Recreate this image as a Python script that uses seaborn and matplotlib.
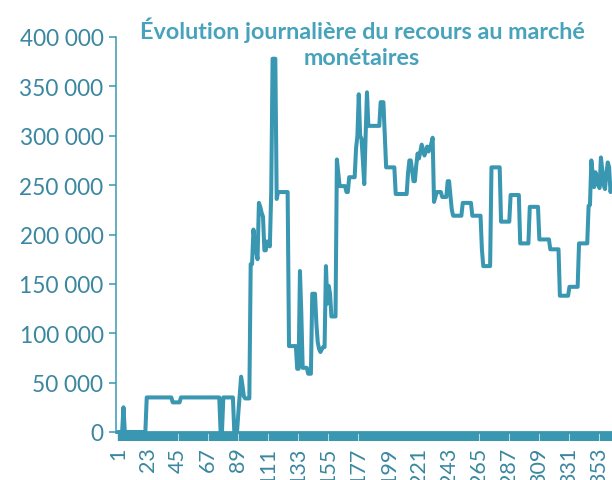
import numpy as np
import pandas as pd
import matplotlib
matplotlib.use("Agg")
import matplotlib.pyplot as plt
from matplotlib.ticker import FuncFormatter
import seaborn as sns

# Daily use of the money market, stored as runs of equal values
run_values = [
    0, 25000, 0, 35000, 30000, 35000, 0, 35000, 0,
    20000, 38000, 56000, 47000, 36000, 34000,
    170000, 205000, 192000, 183000, 175000, 232000, 228000, 222000, 218000,
    184000, 193000, 190000, 188000, 243000, 378000, 236000, 243000,
    87000, 64000, 163000, 120000, 65000, 59000, 140000, 110000, 91000,
    84000, 81000, 84000, 86000, 168000, 130000, 148000, 140000, 117000,
    276000, 262000, 249000, 243000, 258000, 287000, 300000, 342000, 300000,
    297000, 275000, 251000, 300000, 344000, 310000, 334000, 300000, 268000,
    241000, 262000, 275000, 265000, 254000, 270000, 282000, 277000, 284000,
    291000, 285000, 280000, 285000, 289000, 284000, 287000, 292000, 298000,
    233000, 238000, 243000, 238000, 254000, 240000, 225000, 219000, 232000,
    219000, 185000, 168000, 268000, 213000, 240000, 191000, 228000, 195000,
    185000, 138000, 147000, 191000, 229000, 230000, 275000, 262000, 248000,
    263000, 258000, 250000, 247000, 278000, 265000, 250000, 246000, 262000,
    273000, 268000, 243000, 250000,
]
run_lengths = [
    4, 1, 16, 19, 6, 29, 2, 8, 3,
    1, 1, 1, 1, 1, 4,
    2, 1, 1, 1, 1, 1, 1, 1, 1,
    2, 1, 1, 1, 1, 3, 1, 8,
    6, 2, 1, 1, 4, 3, 3, 1, 1,
    1, 1, 1, 2, 1, 1, 1, 1, 4,
    1, 1, 5, 2, 5, 1, 1, 1, 1,
    1, 1, 1, 1, 1, 9, 3, 1, 7,
    9, 1, 2, 1, 2, 1, 1, 1, 1,
    1, 1, 1, 1, 1, 1, 1, 1, 1,
    1, 1, 4, 4, 2, 1, 1, 7, 7,
    7, 1, 6, 7, 7, 7, 7, 7, 8,
    7, 7, 7, 7, 1, 1, 1, 1, 1,
    1, 1, 1, 1, 1, 1, 1, 1, 1,
    1, 1, 1, 1,
]
tick_days = list(range(1, 354, 22))
y_ticks = list(range(0, 400001, 50000))
title_text = "Évolution journalière du recours au marché\nmonétaires"

LINE = "#3a97b2"
TITLE = "#47a2bb"
LABEL = "#3a879f"

daily = np.repeat(run_values, run_lengths)
df = pd.DataFrame({"jour": np.arange(1, len(daily) + 1), "recours": daily})

sns.set_style("white")
plt.rcParams["font.family"] = ["Lato", "DejaVu Sans"]

fig = plt.figure(figsize=(6.12, 4.81), dpi=100)
ax = fig.add_axes([116 / 612, 48 / 481, 496 / 612, 395 / 481])

sns.lineplot(data=df, x="jour", y="recours", ax=ax, color=LINE,
             linewidth=2.9, solid_joinstyle="round", solid_capstyle="round")
for ln in ax.lines:
    ln.set_clip_on(False)

ax.set_xlim(-0.46, 362.1)
ax.set_ylim(0, 400000)

ax.set_xticks(tick_days)
ax.set_xticklabels([str(d) for d in tick_days], rotation=90)
ax.set_xticks(np.arange(1, len(daily) + 1), minor=True)
ax.set_yticks(y_ticks)
ax.yaxis.set_major_formatter(FuncFormatter(lambda v, _: f"{int(v):,}".replace(",", " ")))

# one tick per day, packed so tightly that they read as a solid band
ax.tick_params(axis="x", which="both", direction="out", length=6.5, width=1.7,
               color=LINE, pad=4, labelsize=15.5, labelcolor=LABEL)
ax.tick_params(axis="x", which="minor", bottom=True)
ax.tick_params(axis="y", direction="out", length=5, width=1.1, color=LINE,
               pad=4, labelsize=16.3, labelcolor=LABEL, left=True)

for side in ("top", "right"):
    ax.spines[side].set_visible(False)
ax.spines["left"].set_color(LINE)
ax.spines["left"].set_linewidth(1.1)
ax.spines["bottom"].set_color(LINE)
ax.spines["bottom"].set_linewidth(2.0)
ax.set_xlabel("")
ax.set_ylabel("")

fig.text(362 / 612, 1 - 43 / 481, title_text, ha="center", va="center",
         fontsize=16.8, fontweight="bold", color=TITLE, linespacing=1.3)

fig.savefig("out.png", dpi=100)
